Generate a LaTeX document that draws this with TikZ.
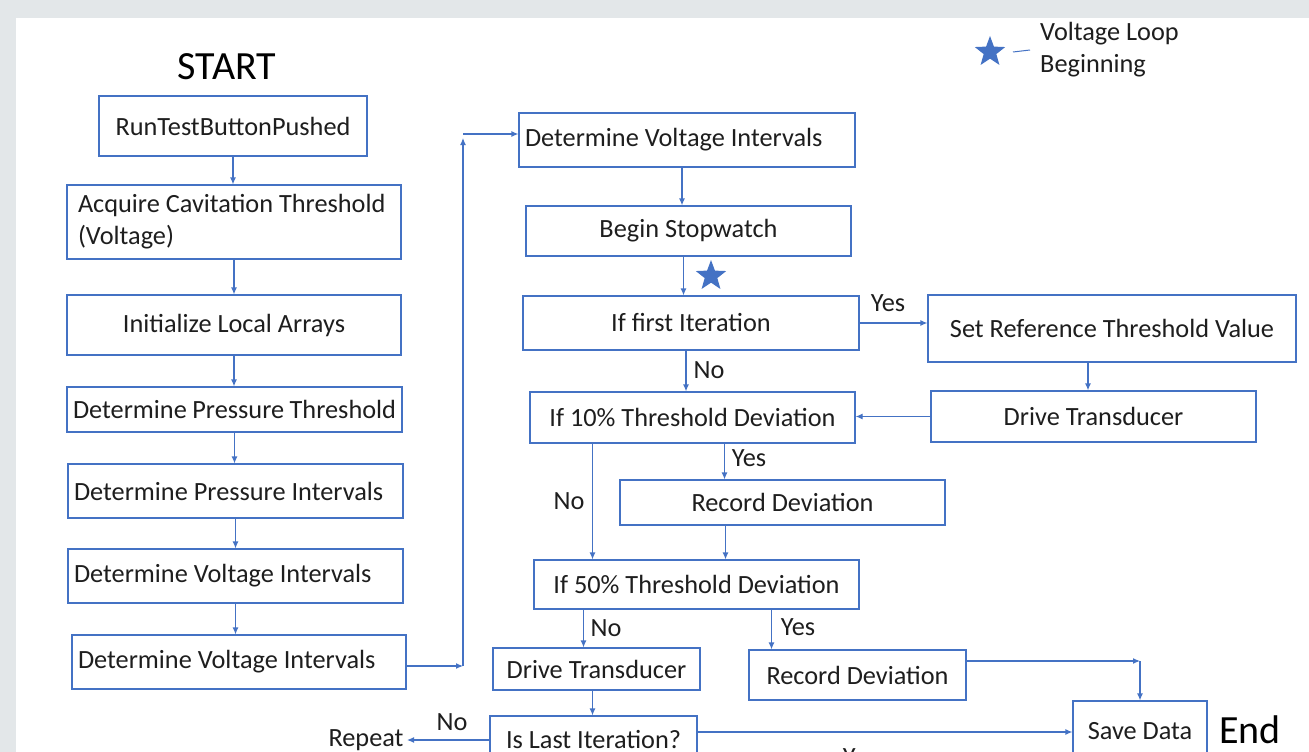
\documentclass[tikz,border=0pt]{standalone}
\usepackage{fontspec}
\setmainfont{Carlito}
\usetikzlibrary{shapes.geometric,% star for the loop marker
arrows.meta}
\definecolor{lineblue}{HTML}{4472C4}
\definecolor{txtgray}{HTML}{1E1E1E}
\definecolor{framegray}{HTML}{E3E7E9}
\tikzset{every node/.style={font=\fontsize{26.3}{32}\selectfont, text=txtgray},
  box/.style={draw=lineblue, line width=1.2pt, rectangle, inner sep=0pt, align=center},
  lbox/.style={box, align=flush left, inner xsep=6pt},
  arr/.style={draw=lineblue, line width=1.2pt, -{Latex[length=7pt,width=6pt]}},
  lbl/.style={inner sep=0pt},
  bigtxt/.style={font=\fontsize{40}{44}\selectfont, text=black},
  loopstar/.style={star, star points=5, star point ratio=2.4, fill=lineblue, inner sep=0pt, minimum size=32pt}}

\begin{document}
\begin{tikzpicture}[x=1pt, y=-1pt]
  \useasboundingbox (0,0) rectangle (1309,752);
  \fill[framegray] (0,0) rectangle (1309,752);
  \fill[white] (16,18) rectangle (1309,752);
  \clip (0,0) rectangle (1309,752);

  % left column
  \node[bigtxt] (start) at (227,67) {START};
  \node[box, minimum width=268, minimum height=60] (run) at (233,126) {RunTestButtonPushed};
  \node[lbox, inner xsep=11pt, text width=312pt, minimum height=74] (acq) at (234,222) {Acquire Cavitation Threshold\\(Voltage)};
  \node[box, minimum width=334, minimum height=60] (init) at (234,325) {Initialize Local Arrays};
  \node[lbox, text width=323pt, minimum height=45] (dpt) at (234.5,409.5) {Determine Pressure Threshold};
  \node[lbox, text width=323pt, minimum height=54] (dpi) at (235.5,491) {Determine Pressure Intervals};
  \node[lbox, text width=323pt, minimum height=54] (dvia) at (235.5,576) {Determine Voltage Intervals};
  \node[lbox, text width=322pt, minimum height=54] (dvib) at (239,662) {Determine Voltage Intervals};

  % voltage loop
  \node[lbox, text width=324pt, minimum height=54] (dvic) at (687,140) {Determine Voltage Intervals};
  \node[box, minimum width=325, minimum height=50] (stopw) at (688.5,231) {Begin Stopwatch};
  \node[box, minimum width=336, minimum height=54] (first) at (691,323) {If first Iteration};
  \node[loopstar] (markstar) at (711,276) {};
  \node[box, minimum width=368, minimum height=67] (setref) at (1112,328.5) {Set Reference Threshold Value};
  \node[box, minimum width=325, minimum height=51] (drvA) at (1093.5,416.5) {Drive Transducer};
  \node[box, minimum width=325, minimum height=51] (dev10) at (692.5,417.5) {If 10\% Threshold Deviation};
  \node[box, minimum width=325, minimum height=45] (recA) at (782.5,502.5) {Record Deviation};
  \node[box, minimum width=325, minimum height=49] (dev50) at (696.5,584.5) {If 50\% Threshold Deviation};
  \node[box, minimum width=207, minimum height=42] (drvB) at (596.5,669) {Drive Transducer};
  \node[box, minimum width=217, minimum height=50] (recB) at (857.5,675) {Record Deviation};
  \node[box, minimum width=207, minimum height=46] (last) at (593.5,739) {Is Last Iteration?};
  \node[box, minimum width=134, minimum height=60] (save) at (1140,731) {Save Data};
  \node[bigtxt] (end) at (1250,730) {End};
  \node (repeat) at (366,740) {Repeat};

  % legend
  \node[loopstar] (keystar) at (990,52) {};
  \node[lbl, anchor=west, align=flush left] (keytext) at (1040,50) {Voltage Loop\\Beginning};
  \draw[lineblue, line width=1pt] ([xshift=23]keystar.center) -- ([xshift=-10]keytext.west);

  % arrows down the left column
  \foreach \a/\b in {run/acq, acq/init, init/dpt, dpt/dpi, dpi/dvia, dvia/dvib}
    \draw[arr] (\a.south) -- (\a.south |- \b.north);

  \coordinate (upA) at (463,666);
  \coordinate (upB) at (463,138);
  \coordinate (upC) at (463,134);
  \draw[arr] (dvib.east |- upA) -- (upA);
  \draw[arr] (upA) -- (upB);
  \draw[arr] (upC) -- (upC -| dvic.west);

  \draw[arr] ([xshift=-5]dvic.south) -- ([xshift=-5]dvic.south |- stopw.north);
  \draw[arr] ([xshift=-5]stopw.south) -- ([xshift=-5]stopw.south |- first.north);
  \draw[arr] (first.east) -- (first.east -| setref.west);
  \node[lbl] at (888,303) {Yes};
  \draw[arr] ([xshift=-24]setref.south) -- ([xshift=-24]setref.south |- drvA.north);
  \draw[arr] (drvA.west) -- (drvA.west -| dev10.east);
  \draw[arr] ([xshift=-5]first.south) -- ([xshift=-5]first.south |- dev10.north);
  \node[lbl] at (709,370) {No};
  \draw[arr] ([xshift=32]dev10.south) -- ([xshift=32]dev10.south |- recA.north);
  \node[lbl] at (749,458) {Yes};
  \draw[arr] ([xshift=-100]dev10.south) -- ([xshift=-100]dev10.south |- dev50.north);
  \node[lbl] at (569,501) {No};
  \draw[arr] ([xshift=-57]recA.south) -- ([xshift=-57]recA.south |- dev50.north);
  \draw[arr] ([xshift=-113]dev50.south) -- ([xshift=-113]dev50.south |- drvB.north);
  \node[lbl] at (606,628) {No};
  \draw[arr] ([xshift=75]dev50.south) -- ([xshift=75]dev50.south |- recB.north);
  \node[lbl] at (798,627) {Yes};
  \draw[arr] ([xshift=-4]drvB.south) -- ([xshift=-4]drvB.south |- last.north);
  \draw[arr] ([yshift=14]recB.east) -- ([yshift=14]recB.east -| save.north);
  \draw[arr] ([yshift=14]recB.east -| save.north) -- (save.north);
  \draw[arr] ([yshift=-1]last.west) -- ([yshift=-1]last.west -| repeat.east);
  \node[lbl] at (452,722) {No};
  \draw[arr] ([yshift=7]last.east) -- ([yshift=7]last.east -| save.west);
  \node[lbl] at (860,757) {Yes};
\end{tikzpicture}
\end{document}
